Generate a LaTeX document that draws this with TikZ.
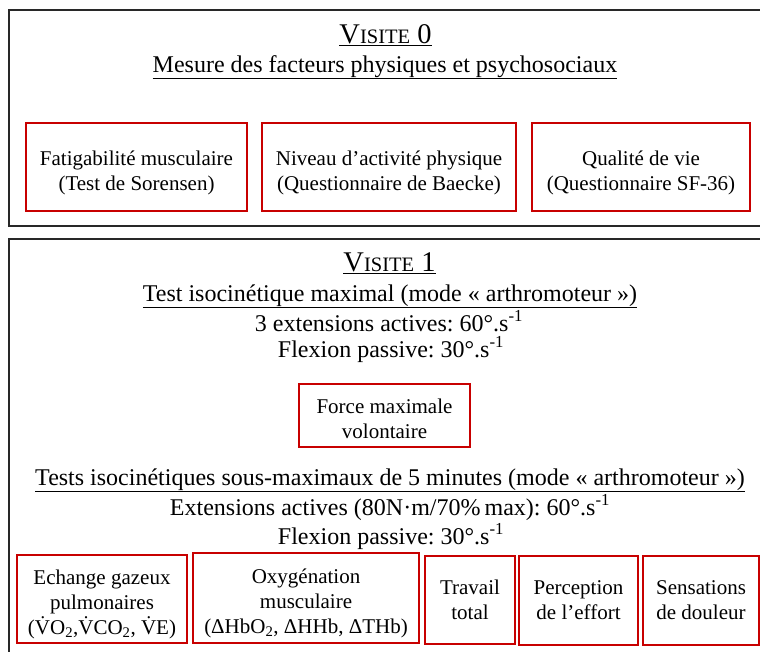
\documentclass[tikz,border=0pt]{standalone}
\usepackage{fontspec}
\setmainfont{Liberation Serif}
\frenchspacing
\definecolor{boxred}{RGB}{200,0,0}
\definecolor{framegray}{RGB}{40,40,40}
\newcommand{\visite}[1]{\underline{V{\fontsize{20.5}{20.5}\selectfont ISITE} #1}}
\newcommand{\vpt}{\.{V}}
\newcommand{\haut}[1]{\rule{0pt}{#1}}

\begin{document}
\begin{tikzpicture}[x=1pt, y=-1pt,
    frame/.style={draw=framegray, line width=1.3pt},
    mesure/.style={rectangle, draw=boxred, line width=2.7pt, align=center, inner sep=0pt, font=\fontsize{21}{25.5}\selectfont},
    titre/.style={anchor=base, inner sep=0pt, font=\fontsize{24}{24}\selectfont},
    grandtitre/.style={titre, font=\fontsize{28.5}{28.5}\selectfont}
]
\useasboundingbox (0,0) rectangle (760,651);
\clip (0,0) rectangle (760,651);

% visite 0
\draw[frame] (9,10) rectangle (780,226);
\node[grandtitre] (v0) at (385.5,43) {\visite{0}};
\node[titre] (m0) at (385,72) {\underline{Mesure des facteurs physiques et psychosociaux}};

\node[mesure, minimum width=221pt, minimum height=88pt] (fat) at (136.5,167) {\haut{26pt}Fatigabilité musculaire\\(Test de Sorensen)};
\node[mesure, minimum width=254pt, minimum height=88pt] (niv) at (389,167) {\haut{26pt}Niveau d’activité physique\\(Questionnaire de Baecke)};
\node[mesure, minimum width=218pt, minimum height=88pt] (qual) at (641,167) {\haut{26pt}Qualité de vie\\(Questionnaire SF-36)};

% visite 1
\draw[frame] (9,239) rectangle (780,680);
\node[grandtitre] (v1) at (389.5,271) {\visite{1}};
\node[titre] (tmax) at (390,301) {\underline{Test isocinétique maximal (mode « arthromoteur »)}};
\node[titre] (ext1) at (389,331) {3 extensions actives: 60°.s\textsuperscript{-1}};
\node[titre] (flx1) at (391,357) {Flexion passive: 30°.s\textsuperscript{-1}};

\node[mesure, minimum width=171pt, minimum height=63pt] (fmv) at (384.5,415.5) {\haut{21pt}Force maximale\\volontaire};

\node[titre] (tsub) at (390,485) {\underline{Tests isocinétiques sous-maximaux de 5 minutes (mode « arthromoteur »)}};
\node[titre] (ext2) at (390,515) {Extensions actives (80N·m/70\%\,max): 60°.s\textsuperscript{-1}};
\node[titre] (flx2) at (391,544) {Flexion passive: 30°.s\textsuperscript{-1}};

\begin{scope}[mesure/.append style={font=\fontsize{21}{25}\selectfont}]
\node[mesure, minimum width=170pt, minimum height=88pt] (ech) at (102,599) {\haut{25pt}Echange gazeux\\pulmonaires\\(\vpt O\textsubscript{2},\vpt CO\textsubscript{2}, \vpt E)};
\node[mesure, minimum width=226pt, minimum height=90pt] (oxy) at (306,598) {\haut{25pt}Oxygénation\\musculaire\\(ΔHbO\textsubscript{2}, ΔHHb, ΔTHb)};
\node[mesure, minimum width=90pt, minimum height=88pt] (trav) at (470,600) {Travail\\total};
\node[mesure, minimum width=119pt, minimum height=89pt] (perc) at (578.5,600.5) {Perception\\de l’effort};
\node[mesure, minimum width=116pt, minimum height=89pt] (sens) at (701,600.5) {Sensations\\de douleur};
\end{scope}
\end{tikzpicture}
\end{document}
